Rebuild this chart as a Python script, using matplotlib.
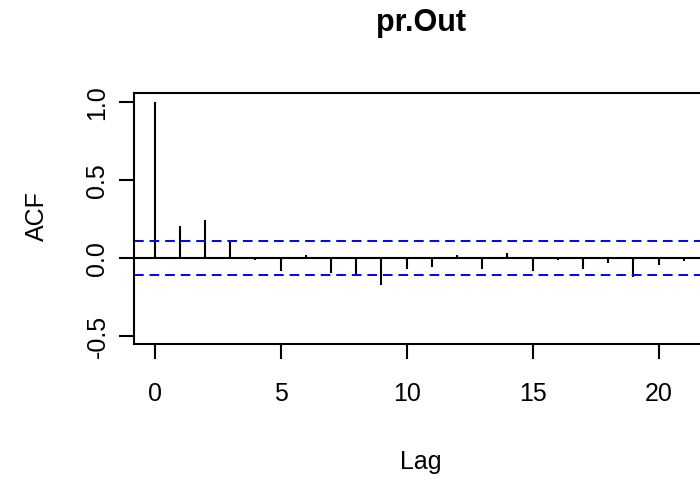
import numpy as np
import matplotlib
matplotlib.use("Agg")
import matplotlib.pyplot as plt

plt.rcParams['font.family'] = ['Liberation Sans', 'DejaVu Sans']

# acf of pr.Out
lags = list(range(0, 22))
acf_vals = [1.0, 0.209, 0.247, 0.106, -0.01, -0.081, 0.019, -0.096, -0.107, -0.171,
            -0.066, -0.054, 0.019, -0.066, 0.032, -0.079, -0.008, -0.066, -0.028,
            -0.118, -0.043, -0.017]
ci = 0.109
xticks = [0, 5, 10, 15, 20]
yticks = [-0.5, 0.0, 0.5, 1.0]
ytick_labels = ["-0.5", "0.0", "0.5", "1.0"]

W, H = 700, 480
fig = plt.figure(figsize=(7, 4.8), dpi=100)

# plot region (right edge falls just outside the picture, as in the original)
left, right, top, bottom = 133.5, 705.0, 93.3, 344.3
ax = fig.add_axes([left / W, 1 - bottom / H, (right - left) / W, (bottom - top) / H])

ax.vlines(lags, 0, acf_vals, color='black', lw=1.5)
ax.axhline(0, color='black', lw=1.5)
ax.axhline(ci, color='#0000FF', lw=1.4, linestyle=(0, (5, 3)))
ax.axhline(-ci, color='#0000FF', lw=1.4, linestyle=(0, (5, 3)))

ax.set_xlim(-0.84, 21.84)
ax.set_ylim(-0.551, 1.058)

for s in ax.spines.values():
    s.set_linewidth(1.5)

ax.set_xticks(xticks)
ax.set_xticklabels([str(t) for t in xticks])
ax.set_yticks(yticks)
ax.set_yticklabels(ytick_labels, rotation=90, va='center')
ax.tick_params(axis='both', length=10.8, width=1.5, labelsize=18)
ax.tick_params(axis='x', pad=16)
ax.tick_params(axis='y', pad=6.5)

fig.text(421 / W, 1 - 31.5 / H, "pr.Out", fontsize=22, fontweight='bold',
         ha='center', va='baseline')
fig.text(421 / W, 1 - 469 / H, "Lag", fontsize=18, ha='center', va='baseline')
fig.text(37 / W, 1 - 216 / H, "ACF", fontsize=18, rotation=90, ha='center', va='center')

fig.savefig("out.png", dpi=100)
